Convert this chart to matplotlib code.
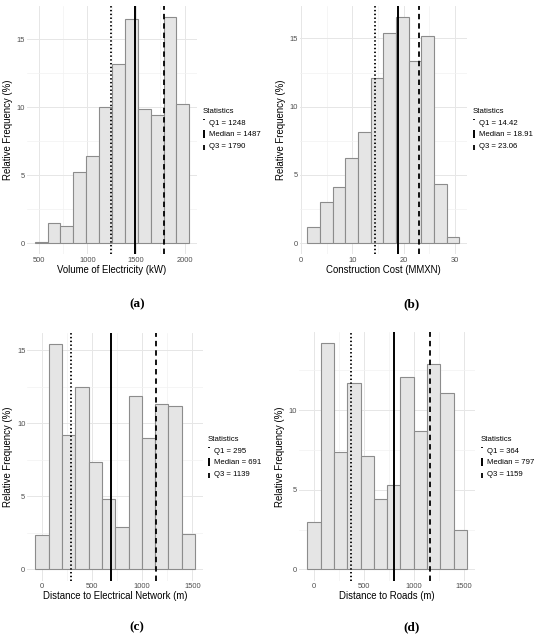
import numpy as np
import matplotlib
matplotlib.use("Agg")
import matplotlib.pyplot as plt
from matplotlib.lines import Line2D
from matplotlib.legend_handler import HandlerBase

plt.rcParams['font.family'] = ['Liberation Sans', 'DejaVu Sans']

# histogram data (relative frequency in %)
elec_start, elec_width = 459, 132.4
elec_freq = [0.1, 1.45, 1.3, 5.25, 6.4, 10.0, 13.2, 16.5, 9.85, 9.4, 16.6, 10.2]
elec_quart = [1248, 1487, 1790]

cost_start, cost_width = 1.23, 2.467
cost_freq = [1.2, 3.0, 4.13, 6.25, 8.16, 12.1, 15.4, 16.55, 13.36, 15.2, 4.37, 0.42]
cost_quart = [14.42, 18.91, 23.06]

net_start, net_width = -63, 132.5
net_freq = [2.35, 15.4, 9.19, 12.47, 7.34, 4.79, 2.87, 11.83, 8.98, 11.29, 11.2, 2.39]
net_quart = [295, 691, 1139]

road_start, road_width = -70, 133.3
road_freq = [3.0, 14.2, 7.35, 11.68, 7.1, 4.43, 5.3, 12.1, 8.7, 12.9, 11.1, 2.45]
road_quart = [364, 797, 1159]

x_labels = ["Volume of Electricity (kW)", "Construction Cost (MMXN)",
            "Distance to Electrical Network (m)", "Distance to Roads (m)"]
captions = ["a", "b", "c", "d"]
xtick_sets = [[500, 1000, 1500, 2000], [0, 10, 20, 30],
              [0, 500, 1000, 1500], [0, 500, 1000, 1500]]
quart_fmt = ["{:.0f}", "{:.2f}", "{:.0f}", "{:.0f}"]

W, H = 550, 638
# axes boxes in pixels: left, right, top, bottom
boxes = [(27, 197, 6, 254.5), (299.7, 467, 6, 254.5),
         (27.4, 203, 333, 580.6), (299.3, 475, 332, 580.6)]
legend_pos = [(203, 129), (473, 129), (208, 457), (481, 457)]
caption_pos = [(137, 304), (412, 304), (137, 627), (412, 627)]

styles = [(0, (0.8, 1.3)), '-', (0, (3.0, 2.2))]
widths = [1.3, 1.4, 1.3]
# legend key extents (fraction of key height) mimicking ggplot's short keys
key_span = [(0.75, 0.9), (0.0, 1.0), (0.0, 0.55)]


class VLineHandler(HandlerBase):
    def __init__(self, span):
        super().__init__()
        self.span = span

    def create_artists(self, legend, orig_handle, xdescent, ydescent,
                       width, height, fontsize, trans):
        xc = width / 2 - xdescent
        lo, hi = self.span
        ln = Line2D([xc, xc], [-ydescent + lo * height, -ydescent + hi * height],
                    linestyle='-', solid_capstyle='butt',
                    linewidth=orig_handle.get_linewidth(),
                    color=orig_handle.get_color())
        ln.set_transform(trans)
        return [ln]


fig = plt.figure(figsize=(W / 100, H / 100), dpi=100)

panels = [(elec_start, elec_width, elec_freq, elec_quart),
          (cost_start, cost_width, cost_freq, cost_quart),
          (net_start, net_width, net_freq, net_quart),
          (road_start, road_width, road_freq, road_quart)]

for i, (start, width, freq, quart) in enumerate(panels):
    l, r, t, b = boxes[i]
    ax = fig.add_axes([l / W, 1 - b / H, (r - l) / W, (b - t) / H])
    edges = start + width * np.arange(len(freq) + 1)
    ax.bar(edges[:-1], freq, width=width, align='edge', color='#e5e5e5',
           edgecolor='#8c8c8c', linewidth=0.8, zorder=2)
    ax.use_sticky_edges = False
    ax.margins(x=0.05, y=0.05)
    ax.autoscale_view()
    x0, x1 = ax.get_xlim()
    y0, y1 = ax.get_ylim()

    names = ["Q1", "Median", "Q3"]
    handles = []
    hmap = {}
    for k in range(3):
        ax.axvline(quart[k], color='black', linestyle=styles[k],
                   linewidth=widths[k], zorder=3)
        h = Line2D([], [], color='black', linestyle=styles[k],
                   linewidth=widths[k],
                   label=f"{names[k]} = " + quart_fmt[i].format(quart[k]))
        handles.append(h)
        hmap[h] = VLineHandler(key_span[k])

    xt = xtick_sets[i]
    step = xt[1] - xt[0]
    ax.set_xticks(xt)
    ax.set_yticks([0, 5, 10, 15])
    xminor = [v + step / 2 for v in [xt[0] - step] + xt]
    ax.set_xticks([v for v in xminor if x0 <= v <= x1], minor=True)
    ax.set_yticks([v for v in [2.5, 7.5, 12.5] if y0 <= v <= y1], minor=True)
    ax.set_xlim(x0, x1)
    ax.set_ylim(y0, y1)
    ax.grid(True, which='major', color='#e6e6e6', linewidth=0.7, zorder=0)
    ax.grid(True, which='minor', color='#f2f2f2', linewidth=0.5, zorder=0)
    ax.set_axisbelow(True)
    for s in ax.spines.values():
        s.set_visible(False)
    ax.tick_params(which='both', length=0, labelsize=5.4, labelcolor='#4d4d4d', pad=1.5)
    ax.set_xlabel(x_labels[i], fontsize=6.9, labelpad=1)
    ax.set_ylabel("Relative Frequency (%)", fontsize=6.9, labelpad=2.5)

    lx, ly = legend_pos[i]
    fig.legend(handles=handles, title="Statistics", loc='center left',
               bbox_to_anchor=(lx / W, 1 - ly / H), frameon=False,
               fontsize=5.6, title_fontsize=5.6, alignment='left',
               handler_map=hmap, handlelength=0.35,
               handleheight=1.3, handletextpad=0.45, labelspacing=0.4,
               borderpad=0, borderaxespad=0)

    cx, cy = caption_pos[i]
    fig.text(cx / W, 1 - cy / H, f"({captions[i]})", ha='center', va='center',
             fontsize=9.5, fontweight='bold', family='Liberation Serif')

fig.savefig("out.png", dpi=100)
